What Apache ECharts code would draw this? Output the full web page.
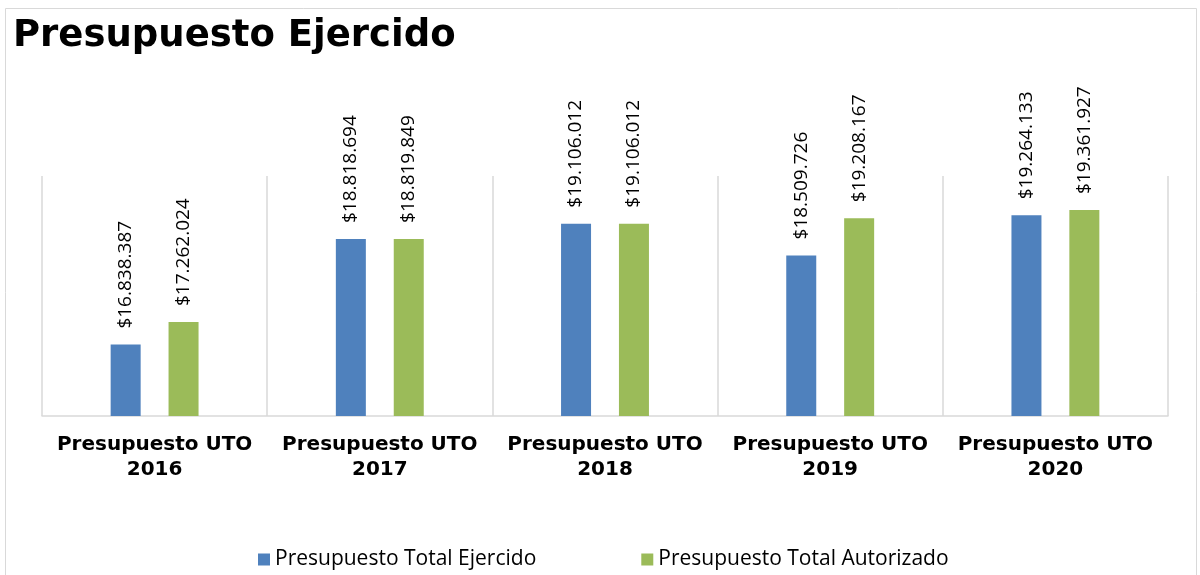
<!DOCTYPE html>
<html>
<head>
<meta charset="utf-8">
<script src="https://cdn.jsdelivr.net/npm/echarts@6/dist/echarts.min.js"></script>
<style>
  html, body { margin: 0; padding: 0; background: #fff; }
  #chart { width: 1200px; height: 575px; }
</style>
</head>
<body>
<div id="chart"></div>
<script>
// datos del gráfico
const categories = [
    'Presupuesto UTO\n2016',
    'Presupuesto UTO\n2017',
    'Presupuesto UTO\n2018',
    'Presupuesto UTO\n2019',
    'Presupuesto UTO\n2020'
];
const ejercido = [16838387, 18818694, 19106012, 18509726, 19264133];
const autorizado = [17262024, 18819849, 19106012, 19208167, 19361927];
const seriesNames = ['Presupuesto Total Ejercido', 'Presupuesto Total Autorizado'];

// $16.838.387
const fmt = (v) => '$' + String(v).replace(/\B(?=(\d{3})+(?!\d))/g, '.');

const myChart = echarts.init(document.getElementById('chart'));

const barLabel = {
    show: true,
    position: 'top',
    rotate: 90,
    align: 'left',
    verticalAlign: 'middle',
    distance: 16,
    color: '#000',
    fontFamily: 'Open Sans',
    fontSize: 19,
    formatter: (p) => fmt(p.value)
};

myChart.setOption({
    animation: false,
    title: {
        text: 'Presupuesto Ejercido',
        left: 8,
        top: 13,
        textStyle: {
            fontFamily: 'DejaVu Sans',
            fontWeight: 'bold',
            fontSize: 37,
            color: '#000'
        }
    },
    graphic: [
        {
            type: 'rect',
            shape: { x: 5.5, y: 8.5, width: 1191, height: 600 },
            style: { fill: 'none', stroke: '#d9d9d9', lineWidth: 1 },
            silent: true
        }
    ],
    grid: {
        left: 42,
        right: 32,
        top: 176,
        bottom: 159
    },
    legend: {
        data: seriesNames,
        top: 549,
        left: 258,
        padding: 0,
        icon: 'rect',
        itemWidth: 12,
        itemHeight: 12,
        itemGap: 105,
        textStyle: {
            fontFamily: 'Open Sans',
            fontSize: 21,
            color: '#000'
        }
    },
    xAxis: {
        type: 'category',
        data: categories,
        axisLine: { lineStyle: { color: '#d9d9d9', width: 1.5 } },
        axisTick: { show: false },
        splitLine: { show: true, interval: 0, lineStyle: { color: '#d9d9d9', width: 1.5 } },
        axisLabel: {
            interval: 0,
            margin: 16,
            lineHeight: 25,
            fontFamily: 'DejaVu Sans',
            fontWeight: 'bold',
            fontSize: 20,
            color: '#000'
        }
    },
    yAxis: {
        type: 'value',
        min: 15500000,
        max: 20000000,
        show: false,
        splitLine: { show: false }
    },
    series: [
        {
            name: seriesNames[0],
            type: 'bar',
            data: ejercido,
            barWidth: 30,
            barGap: '93%',
            itemStyle: { color: '#4F81BD' },
            label: barLabel
        },
        {
            name: seriesNames[1],
            type: 'bar',
            data: autorizado,
            barWidth: 30,
            barGap: '93%',
            itemStyle: { color: '#9BBB59' },
            label: barLabel
        }
    ]
});
</script>
</body>
</html>
